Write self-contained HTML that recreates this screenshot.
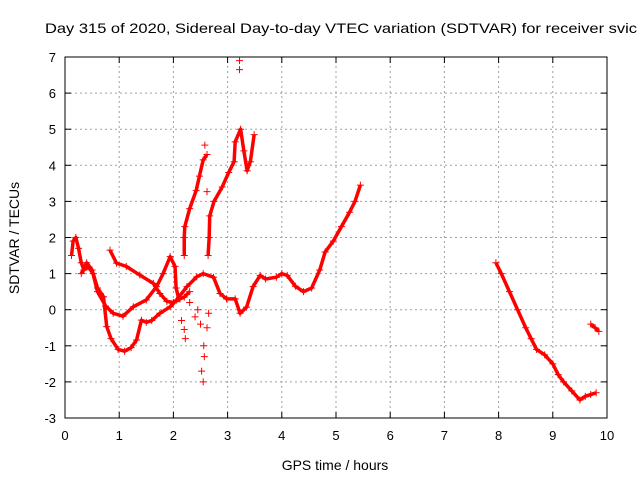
<!DOCTYPE html>
<html><head><meta charset="utf-8"><style>
body{margin:0;background:#fff;overflow:hidden}
svg{display:block;font-family:"Liberation Sans",sans-serif}
</style></head><body>
<svg id="c" width="640" height="480"></svg>
<script>
const xTicks=[0,1,2,3,4,5,6,7,8,9,10];
const yTicks=[-3,-2,-1,0,1,2,3,4,5,6,7];
const seriesLowLoop=[[0.12,1.5],[0.15,1.9],[0.2,2.0],[0.25,1.7],[0.3,1.3],[0.35,1.1],[0.42,1.2],[0.52,1.0],[0.6,0.6],[0.71,0.36],[0.77,-0.47],[0.85,-0.8],[0.98,-1.1],[1.1,-1.15],[1.22,-1.05],[1.32,-0.84],[1.41,-0.29],[1.5,-0.35],[1.6,-0.3],[1.75,-0.1],[1.94,0.08],[2.06,0.27],[2.25,0.64],[2.43,0.91],[2.55,1.0],[2.74,0.9],[2.86,0.45],[2.98,0.3],[3.14,0.3],[3.23,-0.1],[3.35,0.07],[3.47,0.64],[3.6,0.95],[3.7,0.85],[3.9,0.9],[4.0,1.0],[4.1,0.95],[4.25,0.65],[4.4,0.5],[4.55,0.6],[4.7,1.1],[4.8,1.6],[4.95,1.9],[5.1,2.3],[5.25,2.7],[5.35,3.0],[5.45,3.45]];
const seriesUpperLoop=[[0.83,1.65],[0.95,1.29],[1.13,1.2],[1.38,0.96],[1.63,0.73],[1.75,0.45],[1.88,0.23],[2.0,0.2],[2.12,0.3],[2.2,0.35],[2.3,0.5]];
const seriesMidLoop=[[0.3,1.0],[0.4,1.3],[0.5,1.1],[0.6,0.5],[0.75,0.1],[0.89,-0.1],[1.07,-0.18],[1.26,0.08],[1.5,0.27],[1.69,0.64],[1.81,1.0],[1.94,1.47],[2.03,1.2],[2.05,0.6],[2.1,0.3]];
const seriesSteepA=[[2.2,1.5],[2.2,2.0],[2.21,2.3],[2.3,2.8],[2.42,3.3],[2.48,3.7],[2.55,4.15],[2.62,4.3]];
const seriesSteepB=[[2.64,1.5],[2.66,2.0],[2.67,2.6],[2.75,3.0],[2.9,3.4],[3.02,3.8],[3.12,4.1],[3.14,4.65],[3.24,5.0],[3.3,4.4],[3.36,3.85],[3.42,4.1],[3.49,4.85]];
const seriesLate=[[7.95,1.3],[8.05,1.0],[8.2,0.5],[8.35,0.0],[8.5,-0.5],[8.6,-0.8],[8.7,-1.1],[8.85,-1.25],[9.0,-1.5],[9.1,-1.8],[9.2,-2.0],[9.35,-2.25],[9.5,-2.5],[9.6,-2.4],[9.7,-2.35],[9.8,-2.3]];
const seriesEnd=[[9.7,-0.4],[9.78,-0.5],[9.85,-0.6]];
const scatterPts=[[3.22,6.9],[3.22,6.65],[2.55,-2.0],[2.52,-1.7],[2.57,-1.3],[2.56,-1.0],[2.2,-0.55],[2.22,-0.8],[2.4,-0.2],[2.62,-0.5],[2.65,-0.1],[2.5,-0.4],[2.58,4.56],[2.62,3.27],[2.45,0.0],[2.3,0.2],[2.15,-0.3]];

const NS='http://www.w3.org/2000/svg';
const svg=document.getElementById('c');
const X0=65,X1=607,Y0=418,Y1=57;
const sx=v=>X0+(v-0)/(10-0)*(X1-X0);
const sy=v=>Y0-(v+3)/(10)*(Y0-Y1);
function mk(t,a,p){const e=document.createElementNS(NS,t);for(const k in a)e.setAttribute(k,a[k]);(p||svg).appendChild(e);return e;}

const grid=mk('g',{});


xTicks.forEach(t=>{
  if(t>0&&t<10)mk('line',{x1:sx(t),x2:sx(t),y1:Y0,y2:Y1,stroke:'#a0a0a0','stroke-dasharray':'2,3'},grid);
  mk('line',{x1:sx(t),x2:sx(t),y1:Y0,y2:Y0-6,stroke:'#000'},grid);
  mk('line',{x1:sx(t),x2:sx(t),y1:Y1,y2:Y1+6,stroke:'#000'},grid);
  const tx=mk('text',{x:sx(t),y:Y0+22,'text-anchor':'middle','font-size':13});
  
  
  tx.textContent=t;
});
yTicks.forEach(t=>{
  if(t>-3&&t<7)mk('line',{x1:X0,x2:X1,y1:sy(t),y2:sy(t),stroke:'#a0a0a0','stroke-dasharray':'2,3'},grid);
  mk('line',{x1:X0,x2:X0+6,y1:sy(t),y2:sy(t),stroke:'#000'},grid);
  mk('line',{x1:X1,x2:X1-6,y1:sy(t),y2:sy(t),stroke:'#000'},grid);
  const tx=mk('text',{x:X0-9,y:sy(t)+5,'text-anchor':'end','font-size':13});
  
  
  tx.textContent=t;
});
const frame=mk('rect',{x:X0,y:Y1,width:X1-X0,height:Y0-Y1,fill:'none',stroke:'#000'});



const marks=mk('g',{stroke:'#f00','stroke-width':1,fill:'none'});


function plus(x,y){mk('path',{d:`M${x-3.5},${y}h7M${x},${y-3.5}v7`},marks);}
[seriesLowLoop,seriesUpperLoop,seriesMidLoop,seriesSteepA,seriesSteepB,seriesLate,seriesEnd].forEach(s=>{
  const pl=mk('polyline',{points:s.map(p=>sx(p[0])+','+sy(p[1])).join(' '),'stroke-width':3.5,'stroke-linejoin':'round'},marks);
  
  
  s.forEach(p=>plus(sx(p[0]),sy(p[1])));
});
scatterPts.forEach(p=>plus(sx(p[0]),sy(p[1])));

const title=mk('text',{x:45,y:33,'font-size':14,textLength:592,lengthAdjust:'spacingAndGlyphs'});


title.textContent='Day 315 of 2020, Sidereal Day-to-day VTEC variation (SDTVAR) for receiver svic';
const xl=mk('text',{x:335,y:470,'text-anchor':'middle','font-size':14});


xl.textContent='GPS time / hours';
const yl=mk('text',{x:0,y:0,'text-anchor':'middle','font-size':14,transform:'translate(19,238) rotate(-90)'});


yl.textContent='SDTVAR / TECUs';
</script>
</body></html>
